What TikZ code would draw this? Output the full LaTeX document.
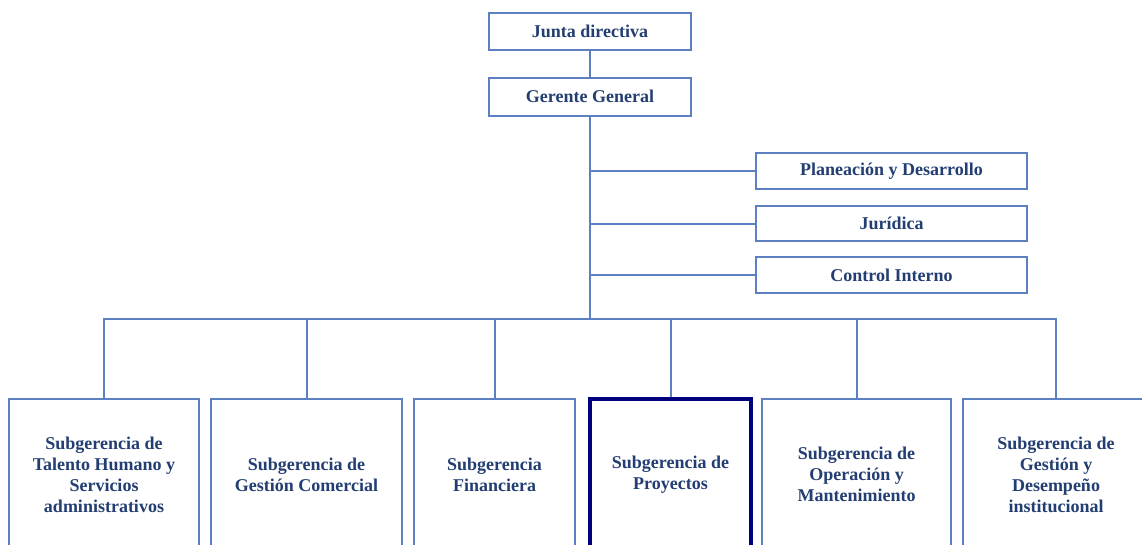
\documentclass[tikz,border=0pt]{standalone}
\usepackage{fontspec}
\setmainfont{Liberation Serif}
\usepackage{tikz}

\definecolor{boxline}{HTML}{5C80C2}
\definecolor{boxtext}{HTML}{233E72}
\definecolor{navy}{HTML}{00007F}

\tikzset{
  unit/.style={draw=boxline, line width=2pt, fill=white, text=boxtext,
    align=center, inner sep=2pt,
    font=\fontsize{18}{21}\selectfont\bfseries},
  subunit/.style={unit, minimum height=151pt},
  link/.style={draw=boxline, line width=2pt}
}

\begin{document}
\begin{tikzpicture}[x=1pt,y=-1pt]
  \path[use as bounding box, clip] (0,0) rectangle (1142,544);

  % Top of the chart
  \node[unit, minimum width=202pt, minimum height=37pt] (junta) at (590,31.5) {Junta directiva};
  \node[unit, minimum width=202pt, minimum height=38pt] (gerente) at (590,96.5) {Gerente General};

  % Staff offices on the right
  \node[unit, minimum width=271pt, minimum height=36pt] (plan) at (891.5,171) {Planeaci\'on y Desarrollo};
  \node[unit, minimum width=271pt, minimum height=35pt] (jur) at (891.5,223.5) {Jur\'idica};
  \node[unit, minimum width=271pt, minimum height=36pt] (control) at (891.5,275) {Control Interno};

  \coordinate (bus) at (590,319);

  % Subgerencias
  \node[subunit, minimum width=190pt] (talento) at (104,474.5)
    {Subgerencia de\\Talento Humano y\\Servicios\\administrativos};
  \node[subunit, minimum width=191pt] (comercial) at (306.5,474.5)
    {Subgerencia de\\Gesti\'on Comercial};
  \node[subunit, minimum width=161pt] (financiera) at (494.5,474.5)
    {Subgerencia\\Financiera};
  \node[subunit, minimum width=161pt, draw=navy, line width=4.5pt] (proyectos) at (670.5,474.5)
    {Subgerencia de\\Proyectos};
  \node[subunit, minimum width=189pt] (operacion) at (856.5,474.5)
    {Subgerencia de\\Operaci\'on y\\Mantenimiento};
  \node[subunit, minimum width=186pt] (desempeno) at (1056,474.5)
    {Subgerencia de\\Gesti\'on y\\Desempe\~no\\institucional};

  % Connectors
  \draw[link] (junta) -- (gerente);
  \draw[link] (gerente) -- (bus);
  \foreach \n in {plan, jur, control}
    \draw[link] (\n.west) -- (\n.west -| bus);
  \foreach \n in {talento, comercial, financiera, proyectos, operacion, desempeno}
    \draw[link] (\n.north) |- (bus);
\end{tikzpicture}
\end{document}
